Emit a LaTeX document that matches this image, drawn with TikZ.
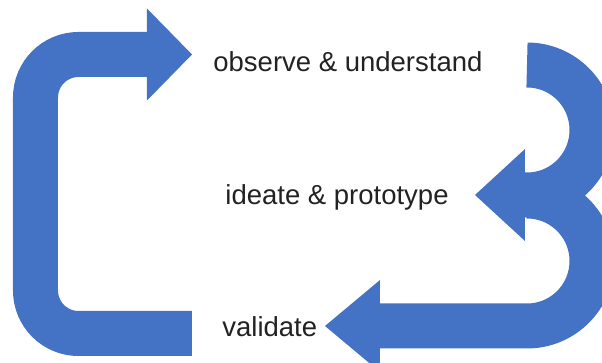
\documentclass[tikz,border=0pt]{standalone}
\usepackage{fontspec}
\setmainfont{Liberation Sans}
\usetikzlibrary{arrows.meta}

\definecolor{flowblue}{RGB}{68,114,196}
\definecolor{labelgray}{RGB}{34,34,34}

\tikzset{
  bigarrow/.style={draw=flowblue, line width=22.5pt,
    -{Triangle[length=#1, width=46pt, line width=0pt]}},
  bigarrow/.default=25pt,
  stage/.style={anchor=base west, inner sep=0pt, text=labelgray,
    font=\fontsize{13.75pt}{16pt}\selectfont}
}

\begin{document}
\begin{tikzpicture}[x=0.5pt, y=-0.5pt]
\useasboundingbox (0,0) rectangle (602,363);
\clip (0,0) rectangle (602,363);

% stage labels
\node[stage] (observe) at (213,72) {observe \& understand};
\node[stage] (ideate) at (225,205) {ideate \& prototype};
\node[stage] (validate) at (222,337) {validate};

% arrow ends
\coordinate (loopstart) at (192,333.5);
\coordinate (looptip) at (192,54.5);
\coordinate (hookstart) at (527,65);
\coordinate (hooktip) at (475,195);
\coordinate (returnstart) at (527,196);
\coordinate (returntip) at (325,326);

% big loop back on the left
\draw[bigarrow=22.5pt, rounded corners=21.5pt] (loopstart) -- (35.5,333.5) -- (35.5,54.5) -- (looptip);

% the two hooks on the right
\draw[bigarrow=27.5pt] (returnstart) arc[start angle=90, end angle=-90, radius=32.5pt] -- (returntip);
\draw[bigarrow] (hookstart) arc[start angle=90, end angle=-90, radius=32.5pt] -- (hooktip);

\end{tikzpicture}
\end{document}
